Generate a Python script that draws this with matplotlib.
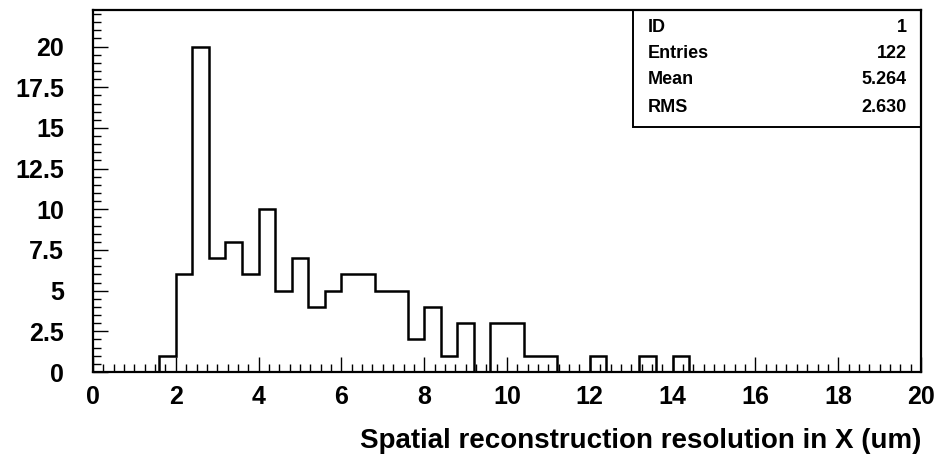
import numpy as np
import matplotlib
matplotlib.use("Agg")
import matplotlib.pyplot as plt
from matplotlib.patches import Rectangle
from matplotlib.ticker import MultipleLocator

# histogram contents, 50 bins of 0.4 um from 0 to 20
x_lo, x_hi, n_bins = 0.0, 20.0, 50
counts = [0, 0, 0, 0, 1, 6, 20, 7, 8, 6,
          10, 5, 7, 4, 5, 6, 6, 5, 5, 2,
          4, 1, 3, 0, 3, 3, 1, 1, 0, 0,
          1, 0, 0, 1, 0, 1, 0, 0, 0, 0,
          0, 0, 0, 0, 0, 0, 0, 0, 0, 0]

stat_names = ["ID", "Entries", "Mean", "RMS"]
stat_values = ["1", "122", "5.264", "2.630"]

y_ticks = [0, 2.5, 5, 7.5, 10, 12.5, 15, 17.5, 20]
y_ticklabels = ["0", "2.5", "5", "7.5", "10", "12.5", "15", "17.5", "20"]
xlabel = "Spatial reconstruction resolution in X (um)"

plt.rcParams["font.family"] = ["Liberation Sans", "DejaVu Sans"]
plt.rcParams["font.weight"] = "bold"

fig = plt.figure(figsize=(9.43, 4.57), dpi=100)
W, H = 943, 457
ax = fig.add_axes([93 / W, (H - 372) / H, 828 / W, 362 / H])

edges = np.linspace(x_lo, x_hi, n_bins + 1)
ax.stairs(counts, edges, color="black", linewidth=1.8)

ax.set_xlim(x_lo, x_hi)
ax.set_ylim(0, 22.25)
ax.xaxis.set_major_locator(MultipleLocator(2))
ax.xaxis.set_minor_locator(MultipleLocator(0.25))
ax.yaxis.set_minor_locator(MultipleLocator(0.5))
ax.set_yticks(y_ticks)
ax.set_yticklabels(y_ticklabels)

ax.tick_params(which="both", direction="in", top=False, right=False,
               labelsize=18, width=1)
ax.tick_params(which="major", length=11)
ax.tick_params(which="minor", length=5.5)
ax.tick_params(axis="x", which="major", pad=9)
ax.tick_params(axis="y", which="major", pad=21)
for lbl in ax.get_xticklabels() + ax.get_yticklabels():
    lbl.set_fontweight("bold")

for s in ax.spines.values():
    s.set_linewidth(1.6)

ax.set_xlabel(xlabel, fontsize=20, fontweight="bold", loc="right", labelpad=14)

# statistics box in the upper right corner
bx0, by0 = (633 - 93) / 828, (372 - 127) / 362
ax.add_patch(Rectangle((bx0, by0), 1 - bx0, 1 - by0, transform=ax.transAxes,
                       fill=False, edgecolor="black", linewidth=1.4, clip_on=False))
rows_y = [(372 - y) / 362 for y in (27, 53, 80, 107)]
for name, val, ty in zip(stat_names, stat_values, rows_y):
    ax.text(0.670, ty, name, transform=ax.transAxes, ha="left", va="center",
            fontsize=13, fontweight="bold")
    ax.text(0.983, ty, val, transform=ax.transAxes, ha="right", va="center",
            fontsize=13, fontweight="bold")

fig.savefig("out.png", dpi=100)
